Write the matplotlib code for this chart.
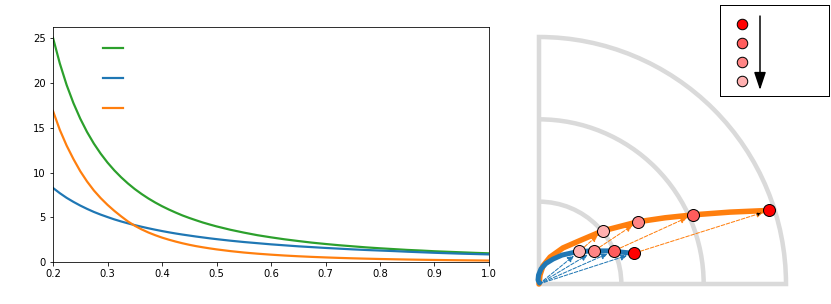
import numpy as np
import matplotlib
matplotlib.use("Agg")
import matplotlib.pyplot as plt
from matplotlib.patches import Arc, Wedge

# left panel: three decaying curves (finer sampling where they are steep)
x = [0.2000, 0.2125, 0.2250, 0.2375, 0.2500, 0.2625, 0.2750, 0.2875, 0.3000, 0.3125,
     0.3250, 0.3375, 0.3500, 0.3625, 0.3750, 0.3875, 0.4000, 0.4125, 0.4250, 0.4375,
     0.4500, 0.4625, 0.4750, 0.4875, 0.5000,
     0.525, 0.550, 0.575, 0.600, 0.625, 0.650, 0.675, 0.700, 0.725, 0.750,
     0.775, 0.800, 0.825, 0.850, 0.875, 0.900, 0.925, 0.950, 0.975, 1.000]
green = [25.00, 22.15, 19.75, 17.73, 16.00, 14.51, 13.22, 12.10, 11.11, 10.24,
         9.47, 8.78, 8.16, 7.61, 7.11, 6.66, 6.25, 5.88, 5.54, 5.22,
         4.94, 4.68, 4.43, 4.21, 4.00,
         3.63, 3.31, 3.02, 2.78, 2.56, 2.37, 2.19, 2.04, 1.90, 1.78,
         1.66, 1.56, 1.47, 1.38, 1.31, 1.23, 1.17, 1.11, 1.05, 1.00]
blue = [8.28, 7.70, 7.18, 6.73, 6.32, 5.95, 5.61, 5.31, 5.04, 4.78,
        4.55, 4.34, 4.14, 3.96, 3.79, 3.63, 3.48, 3.34, 3.21, 3.09,
        2.98, 2.87, 2.77, 2.67, 2.58,
        2.41, 2.26, 2.13, 2.00, 1.89, 1.78, 1.69, 1.60, 1.52, 1.44,
        1.37, 1.31, 1.25, 1.18, 1.12, 1.06, 1.01, 0.96, 0.92, 0.88]
orange = [16.85, 14.75, 13.00, 11.50, 10.15, 9.00, 8.00, 7.15, 6.40, 5.73,
          5.12, 4.55, 4.07, 3.67, 3.32, 3.02, 2.75, 2.52, 2.31, 2.12,
          1.95, 1.80, 1.67, 1.55, 1.44,
          1.25, 1.09, 0.96, 0.85, 0.754, 0.673, 0.603, 0.543, 0.490, 0.444,
          0.404, 0.368, 0.337, 0.309, 0.284, 0.262, 0.242, 0.224, 0.208, 0.193]

# right panel: two trajectories and four marked states (strongest first)
blue_path_x = [0.002, -0.004, -0.002, 0.008, 0.028, 0.057, 0.093, 0.142, 0.206, 0.287, 0.383]
blue_path_y = [0.004, 0.016, 0.036, 0.061, 0.083, 0.101, 0.117, 0.128, 0.134, 0.134, 0.124]
orange_path_x = [0.000, 0.004, 0.016, 0.045, 0.097, 0.166, 0.258, 0.401, 0.510, 0.624, 0.773, 0.933]
orange_path_y = [0.000, 0.036, 0.073, 0.109, 0.146, 0.176, 0.215, 0.252, 0.268, 0.280, 0.291, 0.298]
blue_pts_x = [0.383, 0.303, 0.221, 0.163]
blue_pts_y = [0.124, 0.134, 0.133, 0.132]
orange_pts_x = [0.933, 0.624, 0.401, 0.258]
orange_pts_y = [0.298, 0.280, 0.252, 0.215]
shades = ['#ff0000', '#ff5c5c', '#ff8585', '#ffb0b0']
head_colors = ['black', 'tab:orange', 'tab:orange', 'tab:orange']
radii = [1/3, 2/3]

W, H = 831, 304
fig = plt.figure(figsize=(W/72, H/72), dpi=72)

ax = fig.add_axes([53/W, 1 - 262.3/H, 436/W, 235.6/H])
l1, = ax.plot(x, green, color='tab:green', lw=2.2)
l2, = ax.plot(x, blue, color='tab:blue', lw=2.2)
l3, = ax.plot(x, orange, color='tab:orange', lw=2.2)
ax.set_xlim(0.2, 1.0)
ax.set_ylim(bottom=0)
ax.set_xticks(np.arange(0.2, 1.01, 0.1))
ax.legend([l1, l2, l3], ['', '', ''], loc='upper left', bbox_to_anchor=(41/436, 0.967),
          frameon=False, borderaxespad=0, borderpad=0.9, labelspacing=2.0,
          handlelength=2.0)

# quarter-circle diagram
ax2 = fig.add_axes([526.65/W, 1 - 296.35/H, 271.7/W, 271.7/H])
ax2.set_xlim(-0.05, 1.05)
ax2.set_ylim(-0.05, 1.05)
ax2.axis('off')
gray = '#dadada'
ax2.add_patch(Wedge((0, 0), 1, 0, 90, fill=False, ec=gray, lw=4.5, joinstyle='miter'))
for r in radii:
    ax2.add_patch(Arc((0, 0), 2*r, 2*r, theta1=0, theta2=90, color=gray, lw=4.5))

ax2.plot(orange_path_x, orange_path_y, color='tab:orange', lw=5.5, solid_capstyle='round', zorder=3)
ax2.plot(blue_path_x, blue_path_y, color='tab:blue', lw=5, solid_capstyle='round', zorder=3)

for i in range(4):
    ax2.annotate('', xy=(blue_pts_x[i], blue_pts_y[i]), xytext=(0, 0),
                 arrowprops=dict(arrowstyle='-|>', ls='--', lw=1, color='tab:blue',
                                 shrinkA=0, shrinkB=7, mutation_scale=13), zorder=4)
    ax2.annotate('', xy=(orange_pts_x[i], orange_pts_y[i]), xytext=(blue_pts_x[i], blue_pts_y[i]),
                 arrowprops=dict(arrowstyle='-|>', ls='--', lw=1, ec='tab:orange',
                                 fc=head_colors[i], shrinkA=7, shrinkB=7, mutation_scale=13),
                 zorder=4)

for i in range(4):
    ax2.plot(blue_pts_x[i], blue_pts_y[i], 'o', ms=12, mfc=shades[i], mec='black', mew=1, zorder=5)
    ax2.plot(orange_pts_x[i], orange_pts_y[i], 'o', ms=12, mfc=shades[i], mec='black', mew=1, zorder=5)

# key box
ax3 = fig.add_axes([720/W, 1 - 96/H, 109/W, 91/H])
ax3.set_xlim(0, 1)
ax3.set_ylim(0, 1)
ax3.set_xticks([])
ax3.set_yticks([])
for s in ax3.spines.values():
    s.set_color('black')
    s.set_linewidth(1)
key_y = [0.791, 0.582, 0.374, 0.165]
for i in range(4):
    ax3.plot(0.202, key_y[i], 'o', ms=10.5, mfc=shades[i], mec='black', mew=1)
ax3.annotate('', xy=(0.367, 0.066), xytext=(0.367, 0.879),
             arrowprops=dict(arrowstyle='-|>,head_length=0.6,head_width=0.2', lw=1.5,
                             color='black', shrinkA=0, shrinkB=0, mutation_scale=25))

fig.savefig('out.png', dpi=72)
